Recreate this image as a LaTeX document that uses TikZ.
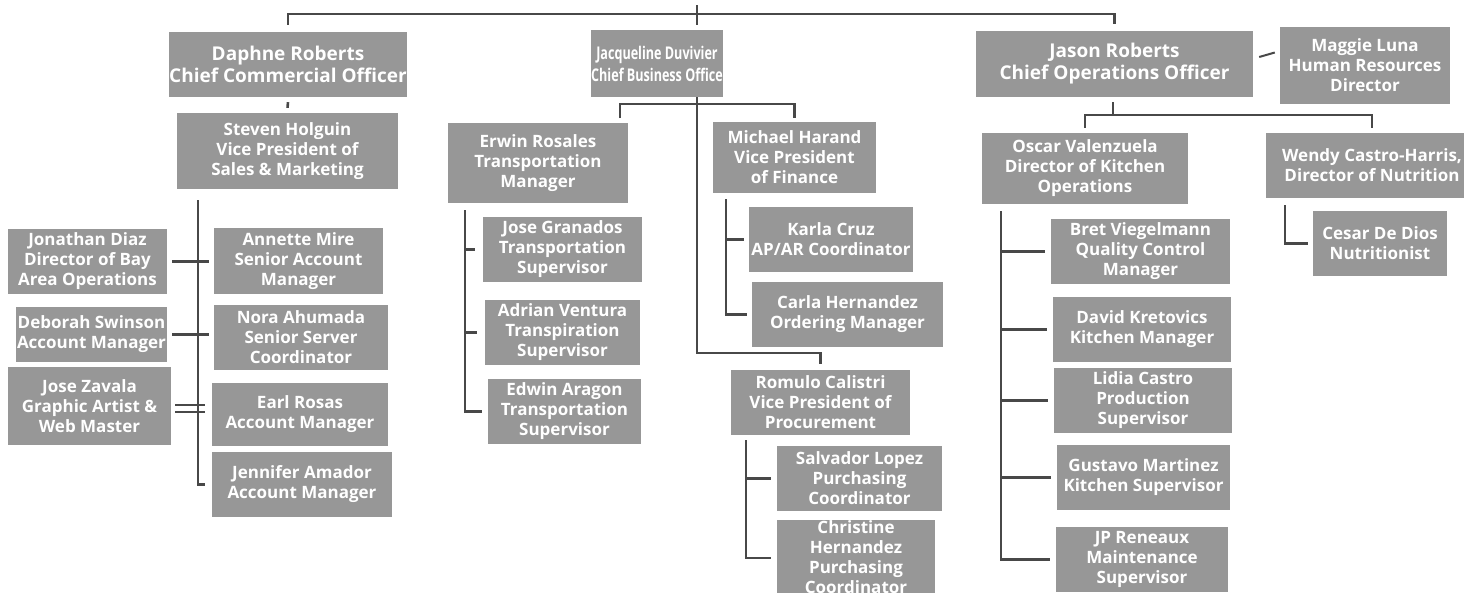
\documentclass[tikz,border=0pt]{standalone}
\usepackage{fontspec}
\setmainfont{Open Sans}
\usepackage{xcolor}
\usepackage{tikz}
\usetikzlibrary{positioning, calc}
\definecolor{boxgray}{HTML}{979797}
\definecolor{linegray}{HTML}{484848}

\begin{document}
\begin{tikzpicture}[x=1pt, y=-1pt,
		staff/.style={fill=boxgray, text=white, align=center, inner sep=0pt, font=\bfseries\fontsize{17}{20}\selectfont},
		big/.style={font=\bfseries\fontsize{19}{22}\selectfont},
		narrow/.style={font=\bfseries\addfontfeature{FakeStretch=0.72}\fontsize{17.5}{22}\selectfont},
		box/.style 2 args={minimum width=#1, minimum height=#2},
		link/.style={draw=linegray, line width=2.6pt}]
		\useasboundingbox (0,0) rectangle (1464,592);
		% chiefs
		\node[staff, big, box={238}{65}] (daphne) at (288,64.5) {Daphne Roberts\\Chief Commercial Officer};
		\node[staff, narrow, box={130}{67}] (jacq) at (657,63.5) {Jacqueline Duvivier\\Chief Business Office};
		\node[staff, big, box={277}{66}] (jason) at (1114.5,64) {Jason Roberts\\Chief Operations Officer};
		\node[staff, box={170}{77}] (maggie) at (1365,65.5) {Maggie Luna\\Human Resources\\Director};
		% commercial
		\node[staff, box={221}{76}] (steven) at (287.5,151) {Steven Holguin\\Vice President of\\Sales \& Marketing};
		\node[staff, box={159}{65}] (jdiaz) at (87.5,261.5) {Jonathan Diaz\\Director of Bay\\Area Operations};
		\node[staff, box={169}{66}] (annette) at (298.5,261) {Annette Mire\\Senior Account\\Manager};
		\node[staff, box={151}{55}] (deborah) at (91.5,334.5) {Deborah Swinson\\Account Manager};
		\node[staff, box={174}{65}] (nora) at (301,337.5) {Nora Ahumada\\Senior Server\\Coordinator};
		\node[staff, box={163}{78}] (jzavala) at (89.5,406) {Jose Zavala\\Graphic Artist \&\\Web Master};
		\node[staff, box={176}{63}] (earl) at (300,414.5) {Earl Rosas\\Account Manager};
		\node[staff, box={180}{65}] (jennifer) at (302,484.5) {Jennifer Amador\\Account Manager};
		% business
		\node[staff, box={180}{80}] (erwin) at (538,163) {Erwin Rosales\\Transportation\\Manager};
		\node[staff, box={163}{71}] (michael) at (794.5,157.5) {Michael Harand\\Vice President\\of Finance};
		\node[staff, box={159}{65}] (jgranados) at (562.5,249.5) {Jose Granados\\Transportation\\Supervisor};
		\node[staff, box={155}{65}] (adrian) at (562.5,332.5) {Adrian Ventura\\Transpiration\\Supervisor};
		\node[staff, box={153}{65}] (edwin) at (564.5,411.5) {Edwin Aragon\\Transportation\\Supervisor};
		\node[staff, box={164}{65}] (karla) at (831,239.5) {Karla Cruz\\AP/AR Coordinator};
		\node[staff, box={191}{65}] (carla) at (847.5,314.5) {Carla Hernandez\\Ordering Manager};
		\node[staff, box={179}{65}] (romulo) at (820.5,402.5) {Romulo Calistri\\Vice President of\\Procurement};
		\node[staff, box={165}{65}] (salvador) at (859.5,478.5) {Salvador Lopez\\Purchasing\\Coordinator};
		\node[staff, box={158}{74}] (christine) at (856,557) {Christine\\Hernandez\\Purchasing\\Coordinator};
		% operations
		\node[staff, box={206}{71}] (oscar) at (1085,168.5) {Oscar Valenzuela\\Director of Kitchen\\Operations};
		\node[staff, box={212}{65}] (wendy) at (1372,165.5) {Wendy Castro-Harris,\\Director of Nutrition};
		\node[staff, box={134}{65}] (cesar) at (1380,243.5) {Cesar De Dios\\Nutritionist};
		\node[staff, box={179}{65}] (bret) at (1140.5,251.5) {Bret Viegelmann\\Quality Control\\Manager};
		\node[staff, box={178}{65}] (david) at (1142,329.5) {David Kretovics\\Kitchen Manager};
		\node[staff, box={178}{65}] (lidia) at (1143,400.5) {Lidia Castro\\Production\\Supervisor};
		\node[staff, box={173}{65}] (gustavo) at (1143.5,477.5) {Gustavo Martinez\\Kitchen Supervisor};
		\node[staff, box={172}{65}] (jp) at (1142,559.5) {JP Reneaux\\Maintenance\\Supervisor};

		\coordinate (ceo) at (697,14);
		\coordinate (strunk) at (198,200);
		\coordinate (jhub) at (697,104);
		\coordinate (jleft) at (620,118);
		\coordinate (jturn) at (697,353);
		\coordinate (etrunk) at (465,210);
		\coordinate (mtrunk) at (726,199);
		\coordinate (rtrunk) at (746,440);
		\coordinate (ohub) at (1113,115);
		\coordinate (otrunk) at (1001,211);
		\coordinate (wtrunk) at (1285,205);

		\draw[link] ([yshift=7]daphne.north) |- (ceo) -| ([yshift=7]jason.north);
		\draw[link] ([yshift=9]ceo) -- ([yshift=5]jacq.north -| ceo);
		\draw[link] ([yshift=-5]daphne.south) -- ([yshift=5]steven.north);
		\draw[link, line width=2pt] ($(jason.east)+(6,-7)$) -- ($(maggie.west)+(-5,-13)$);

		% sales team
		\draw[link] (strunk) |- ($(jennifer.west)+(-7,0)$);
		\foreach \l/\r in {jdiaz/annette, deborah/nora}
			\draw[link] ($(\l.east)+(5,0)$) -- ($(\l.east -| \r.west)+(-5,0)$);
		\draw[link] ($(jzavala.east)+(4,-1)$) -- ($(jzavala.east -| earl.west)+(-7,-1)$);
		\draw[link] ($(jzavala.east)+(4,6)$) -- ($(jzavala.east -| earl.west)+(-7,6)$);

		% business office
		\draw[link] (jacq.south -| jhub) -- (jturn) -| ([yshift=6]romulo.north);
		\draw[link] (jleft) |- (jhub) -| ([yshift=4]michael.north);
		\draw[link] (etrunk) |- ($(edwin.west)+(-6,0)$);
		\foreach \s in {jgranados, adrian}
			\draw[link] (etrunk |- \s.west) -- ($(\s.west)+(-8,0)$);
		\draw[link] (mtrunk) |- ($(carla.west)+(-5,0)$);
		\draw[link] (mtrunk |- karla.west) -- ($(karla.west)+(-5,0)$);
		\draw[link] (rtrunk) |- ($(christine.west)+(-6,1)$);
		\draw[link] (rtrunk |- salvador.west) -- ($(salvador.west)+(-6,0)$);

		% operations
		\draw[link] ([yshift=-5]jason.south -| ohub) -- (ohub);
		\draw[link] ([yshift=5]oscar.north) |- (ohub) -| ([yshift=5]wendy.north);
		\draw[link] (otrunk) |- ($(jp.west)+(-6,0)$);
		\foreach \s in {bret, david, lidia, gustavo}
			\draw[link] (otrunk |- \s.west) -- ($(\s.west)+(-6,0)$);
		\draw[link] (wtrunk) |- ($(cesar.west)+(-5,0)$);
	\end{tikzpicture}
\end{document}
